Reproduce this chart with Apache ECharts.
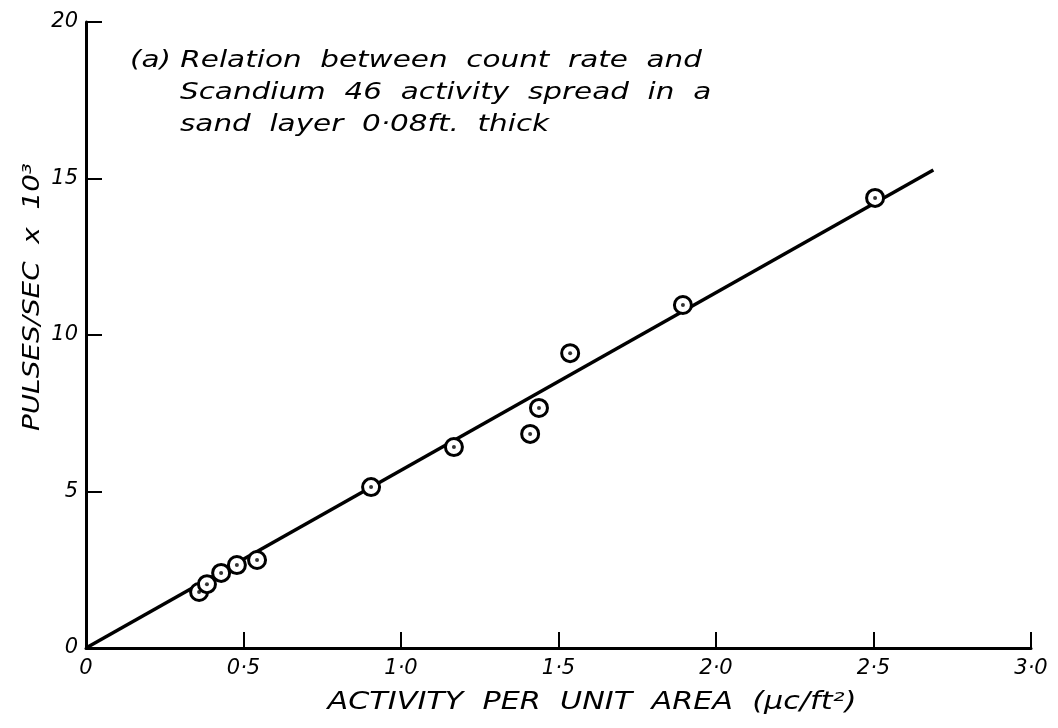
<!DOCTYPE html>
<html>
<head>
<meta charset="utf-8">
<script src="https://cdn.jsdelivr.net/npm/echarts@6/dist/echarts.min.js"></script>
<style>
html,body{margin:0;padding:0;background:#fff;}
#c{width:1058px;height:728px;}
</style>
</head>
<body>
<div id="c"></div>
<script>
// Data
const activity = [0.359, 0.384, 0.429, 0.479, 0.543, 0.905, 1.168, 1.41, 1.438, 1.537, 1.895, 2.505];
const pulses   = [1.79, 2.04, 2.40, 2.65, 2.81, 5.14, 6.42, 6.84, 7.67, 9.42, 10.96, 14.38];
const fitX = [0, 2.69];
const fitY = [0, 15.27];
const titleLines = [
  '(a) Relation  between  count  rate  and',
  'Scandium  46  activity  spread  in  a',
  'sand  layer  0·08ft.  thick'
];
const xName = 'ACTIVITY  PER  UNIT  AREA  (μc/ft²)';
const yName = 'PULSES/SEC  x  10³';

const pts = activity.map((x, i) => [x, pulses[i]]);
const fit = fitX.map((x, i) => [x, fitY[i]]);
const FONT = 'DejaVu Sans';
const tFont = 'italic 23px "DejaVu Sans"';

const chart = echarts.init(document.getElementById('c'));
chart.setOption({
  backgroundColor: '#fff',
  animation: false,
  grid: {left: 86, right: 27, top: 22, bottom: 80},
  graphic: [
    {type: 'text', x: 130, y: 61, scaleX: 1.28, style: {text: titleLines[0], font: tFont, fill: '#000', align: 'left', verticalAlign: 'middle'}},
    {type: 'text', x: 180, y: 93, scaleX: 1.28, style: {text: titleLines[1], font: tFont, fill: '#000', align: 'left', verticalAlign: 'middle'}},
    {type: 'text', x: 180, y: 125, scaleX: 1.28, style: {text: titleLines[2], font: tFont, fill: '#000', align: 'left', verticalAlign: 'middle'}},
    {type: 'text', x: 592, y: 703, scaleX: 1.26, style: {text: xName, font: 'italic 24px "DejaVu Sans"', fill: '#000', align: 'center', verticalAlign: 'middle'}},
    {type: 'text', x: 33, y: 297, rotation: Math.PI / 2, scaleX: 1.21, style: {text: yName, font: 'italic 23px "DejaVu Sans"', fill: '#000', align: 'center', verticalAlign: 'middle'}}
  ],
  xAxis: {
    type: 'value', min: 0, max: 3, interval: 0.5,
    axisLine: {lineStyle: {color: '#000', width: 3}},
    axisTick: {inside: true, length: 16, lineStyle: {color: '#000', width: 2}},
    axisLabel: {fontFamily: FONT, fontStyle: 'italic', fontSize: 21, color: '#000', margin: 10,
      formatter: v => v === 0 ? '0' : v.toFixed(1).replace('.', '·')},
    splitLine: {show: false}
  },
  yAxis: {
    type: 'value', min: 0, max: 20, interval: 5,
    axisLine: {lineStyle: {color: '#000', width: 3}},
    axisTick: {inside: true, length: 16, lineStyle: {color: '#000', width: 2}},
    axisLabel: {fontFamily: FONT, fontStyle: 'italic', fontSize: 21, color: '#000', margin: 8},
    splitLine: {show: false}
  },
  series: [
    {type: 'line', data: fit, symbol: 'none', lineStyle: {color: '#000', width: 3.5}, z: 2},
    {type: 'scatter', data: pts, symbol: 'circle', symbolSize: 17,
      itemStyle: {color: '#fff', borderColor: '#000', borderWidth: 3, opacity: 1}, z: 3},
    {type: 'scatter', data: pts, symbol: 'circle', symbolSize: 4,
      itemStyle: {color: '#000'}, z: 4}
  ]
});
</script>
</body>
</html>
